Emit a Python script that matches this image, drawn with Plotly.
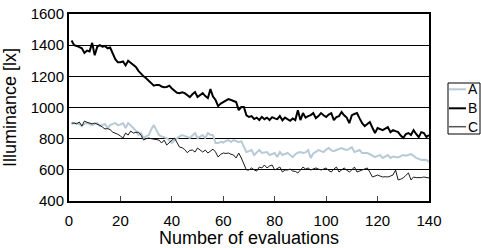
import plotly.graph_objects as go

evaluations = list(range(1, 141))

series_names = ["A", "B", "C"]

illum_A = [
    894, 900, 897, 894, 880, 895, 900, 893, 887, 895,
    900, 881, 890, 894, 868, 887, 895, 900, 887, 890,
    900, 868, 900, 887, 868, 850, 823, 836, 804, 815,
    823, 860, 887, 855, 823, 815, 810, 804, 790, 772,
    790, 804, 815, 823, 818, 810, 805, 820, 836, 804,
    815, 823, 804, 836, 825, 823, 772, 772, 780, 775,
    785, 791, 778, 791, 785, 778, 784, 746, 714, 720,
    727, 695, 714, 727, 708, 710, 714, 695, 700, 708,
    682, 714, 695, 700, 708, 695, 682, 700, 710, 714,
    708, 712, 727, 676, 705, 715, 727, 720, 714, 730,
    740, 725, 720, 727, 735, 740, 732, 727, 735, 746,
    714, 720, 727, 708, 710, 708, 700, 690, 682, 690,
    695, 676, 685, 695, 676, 685, 682, 680, 688, 695,
    690, 695, 701, 690, 676, 670, 663, 665, 663, 650,
]

illum_B = [
    1430, 1400, 1395, 1385, 1380, 1350, 1365, 1360, 1415, 1335,
    1390, 1400, 1390, 1395, 1380, 1385, 1350, 1310, 1290, 1290,
    1295, 1270, 1300, 1285, 1270, 1260, 1235, 1215, 1200, 1188,
    1170, 1155, 1140, 1145, 1145, 1135, 1130, 1132, 1140, 1122,
    1110, 1095, 1092, 1098, 1092, 1080, 1067, 1085, 1099, 1067,
    1080, 1092, 1073, 1060, 1118, 1070, 1048, 1009, 1025, 1035,
    1045, 1054, 1048, 1040, 1035, 983, 1003, 1003, 950, 939,
    945, 926, 935, 920, 940, 925, 935, 920, 938, 930,
    925, 945, 918, 935, 925, 915, 930, 919, 983, 919,
    964, 935, 945, 951, 964, 932, 945, 964, 950, 939,
    955, 964, 919, 939, 945, 971, 950, 935, 900, 951,
    958, 964, 930, 900, 881, 895, 907, 870, 836, 868,
    862, 855, 865, 874, 842, 855, 848, 842, 820, 804,
    830, 836, 823, 855, 830, 810, 842, 836, 810, 823,
]

illum_C = [
    900, 900, 895, 907, 881, 913, 905, 900, 895, 900,
    894, 885, 874, 862, 865, 858, 842, 836, 828, 817,
    804, 836, 823, 849, 836, 840, 842, 823, 791, 800,
    804, 800, 797, 792, 791, 772, 791, 759, 778, 790,
    804, 772, 746, 742, 730, 710, 725, 727, 714, 740,
    725, 714, 727, 708, 720, 733, 714, 682, 700, 708,
    705, 708, 700, 695, 676, 708, 676, 640, 599, 599,
    612, 600, 592, 618, 612, 631, 612, 625, 631, 599,
    610, 618, 586, 599, 599, 605, 592, 590, 580, 600,
    618, 605, 612, 599, 605, 612, 605, 599, 605, 612,
    595, 586, 605, 618, 586, 600, 612, 598, 586, 600,
    618, 586, 592, 599, 605, 612, 585, 554, 560, 567,
    560, 554, 556, 554, 560, 567, 599, 535, 540, 548,
    565, 580, 535, 554, 550, 548, 550, 554, 550, 548,
]

x_ticks = [0, 20, 40, 60, 80, 100, 120, 140]
y_ticks = [400, 600, 800, 1000, 1200, 1400, 1600]

colors = ["#b7cad5", "#000000", "#1a1a1a"]
widths = [2, 2, 1]

W, H = 481, 248
ML, MT = 69, 14
MR, MB = W - 429, H - 201
PW, PH = W - ML - MR, H - MT - MB

def px(xp):  # page pixel -> paper x
    return (xp - ML) / PW

def py(yp):  # page pixel -> paper y
    return (H - MB - yp) / PH

FONT = "Liberation Sans, Arial, sans-serif"

fig = go.Figure()
for name, vals, c, w in zip(series_names, [illum_A, illum_B, illum_C], colors, widths):
    fig.add_trace(go.Scatter(x=evaluations, y=vals, mode="lines", name=name,
                             line=dict(color=c, width=w), showlegend=False))

fig.update_layout(
    width=W, height=H,
    margin=dict(l=ML, r=MR, t=MT, b=MB, pad=0, autoexpand=False),
    paper_bgcolor="white", plot_bgcolor="white",
    font=dict(family=FONT, size=15, color="black"),
    showlegend=False,
)

fig.update_xaxes(
    range=[0, 140], tickvals=x_ticks, ticks="inside", ticklen=5, tickcolor="#444",
    tickwidth=1, showgrid=False, zeroline=False, showline=True, linecolor="black",
    linewidth=2, mirror=True, ticklabelstandoff=5, automargin=False,
    ticklabeloverflow="allow",
    tickfont=dict(size=15),
    title=dict(text="Number of evaluations", font=dict(size=18), standoff=2),
)
fig.update_yaxes(
    range=[400, 1600], tickvals=y_ticks, ticks="", showgrid=True,
    gridcolor="black", gridwidth=1, zeroline=False, showline=True,
    linecolor="black", linewidth=2, mirror=True, automargin=False,
    ticklabeloverflow="allow",
    tickfont=dict(size=15),
    title=dict(text="Illuminance [lx]", font=dict(size=18), standoff=11),
)

# legend box (custom, to match the narrow legend of the reference)
fig.add_shape(type="rect", xref="paper", yref="paper",
              x0=px(448), x1=px(480), y0=py(134), y1=py(83),
              line=dict(color="black", width=1), fillcolor="white")
legend_y = [89.3, 108.3, 126.7]
for name, c, w, ly in zip(series_names, colors, widths, legend_y):
    fig.add_shape(type="line", xref="paper", yref="paper",
                  x0=px(449), x1=px(466), y0=py(ly), y1=py(ly),
                  line=dict(color=c if name != "C" else "#555555", width=max(w, 1.5)))
    fig.add_annotation(xref="paper", yref="paper", x=px(468), y=py(ly),
                       text=name, showarrow=False, xanchor="left", yanchor="middle",
                       borderpad=0, borderwidth=0,
                       font=dict(size=14, color="black"))

fig.write_html(
    "out.html",
    config={"displayModeBar": False},
    post_script="document.body.style.margin='0';document.body.style.overflow='hidden';",
)
